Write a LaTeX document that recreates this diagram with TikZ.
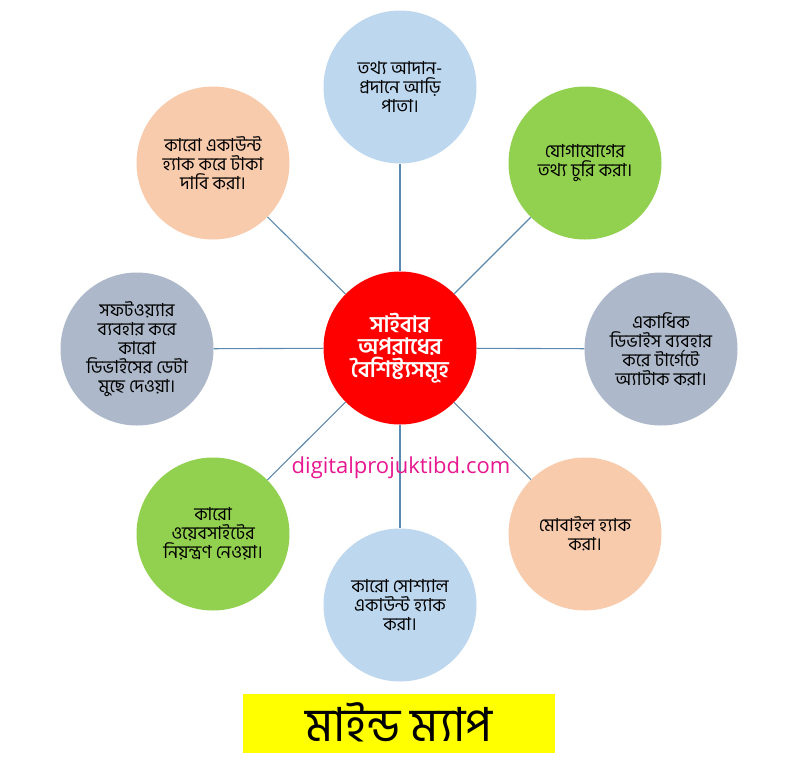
\documentclass[tikz,border=0pt]{standalone}
\usepackage{fontspec}
\setmainfont{Open Sans}
\newfontfamily\bnfont[Script=Bengali]{Hind Siliguri}
\usetikzlibrary{positioning}
\definecolor{linkblue}{HTML}{5B8AB0}
\definecolor{topicblue}{HTML}{BDD7EE}
\definecolor{topicgreen}{HTML}{92D050}
\definecolor{topicgrey}{HTML}{ADB9CA}
\definecolor{topicpeach}{HTML}{F8CBAD}
\definecolor{hubred}{HTML}{FF0000}
\definecolor{titleyellow}{HTML}{FFFF00}
\definecolor{sitepink}{HTML}{E6178F}
\tikzset{
  topic/.style={circle,draw=none,minimum size=153pt,inner sep=0pt,align=center,font=\bnfont\fontsize{18}{19}\selectfont,text=black},
  hub/.style={topic,fill=hubred,text=white,font=\bnfont\bfseries\fontsize{22.5}{22.5}\selectfont},
  link/.style={draw=linkblue,line width=1.1pt}
}
\begin{document}
\begin{tikzpicture}[x=1pt,y=-1pt]
\useasboundingbox (0,0) rectangle (795,764);
\node[hub] (center) at (400,348) {সাইবার\\অপরাধের\\বৈশিষ্ট্যসমূহ};
\node[topic,fill=topicblue] (north) at (400,87) {তথ্য আদান-\\প্রদানে আড়ি\\পাতা।};
\node[topic,fill=topicgreen] (northeast) at (585,163) {যোগাযোগের\\তথ্য চুরি করা।};
\node[topic,fill=topicgrey] (east) at (661,349) {একাধিক\\ডিভাইস ব্যবহার\\করে টার্গেটে\\অ্যাটাক করা।};
\node[topic,fill=topicpeach] (southeast) at (585,534) {মোবাইল হ্যাক\\করা।};
\node[topic,fill=topicblue] (south) at (400,605) {কারো সোশ্যাল\\একাউন্ট হ্যাক\\করা।};
\node[topic,fill=topicgreen] (southwest) at (213,534) {কারো\\ওয়েবসাইটের\\নিয়ন্ত্রণ নেওয়া।};
\node[topic,fill=topicgrey] (west) at (137,349) {সফটওয়্যার\\ব্যবহার করে\\কারো\\ডিভাইসের ডেটা\\মুছে দেওয়া।};
\node[topic,fill=topicpeach] (northwest) at (213,163) {কারো একাউন্ট\\হ্যাক করে টাকা\\দাবি করা।};

\draw[link] (center) -- (north);
\draw[link] (center) -- (northeast);
\draw[link] (center) -- (east);
\draw[link] (center) -- (southeast);
\draw[link] (center) -- (south);
\draw[link] (center) -- (southwest);
\draw[link] (center) -- (west);
\draw[link] (center) -- (northwest);

\node[font=\fontsize{22}{26}\selectfont,text=sitepink,inner sep=0pt] (site) at (401,468) {digitalprojuktibd.com};
\node[fill=titleyellow,minimum width=312pt,minimum height=59pt,inner sep=0pt,font=\bnfont\fontsize{47}{50}\selectfont] (title) at (399,723.5) {\raisebox{3pt}{মাইন্ড ম্যাপ}};
\end{tikzpicture}
\end{document}
